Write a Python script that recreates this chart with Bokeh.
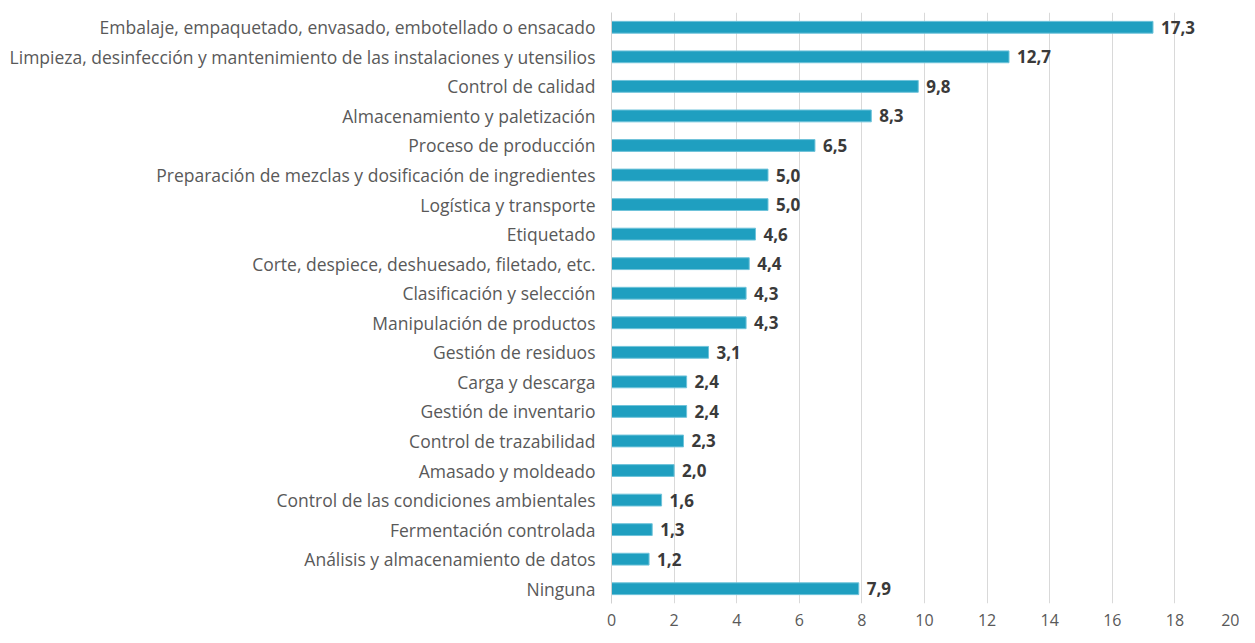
from bokeh.plotting import figure
from bokeh.models import ColumnDataSource, FixedTicker, Range1d
from bokeh.core.properties import value
from bokeh.embed import file_html
from bokeh.resources import INLINE

categories = [
    "Embalaje, empaquetado, envasado, embotellado o ensacado",
    "Limpieza, desinfección y mantenimiento de las instalaciones y utensilios",
    "Control de calidad",
    "Almacenamiento y paletización",
    "Proceso de producción",
    "Preparación de mezclas y dosificación de ingredientes",
    "Logística y transporte",
    "Etiquetado",
    "Corte, despiece, deshuesado, filetado, etc.",
    "Clasificación y selección",
    "Manipulación de productos",
    "Gestión de residuos",
    "Carga y descarga",
    "Gestión de inventario",
    "Control de trazabilidad",
    "Amasado y moldeado",
    "Control de las condiciones ambientales",
    "Fermentación controlada",
    "Análisis y almacenamiento de datos",
    "Ninguna",
]
values = [17.3, 12.7, 9.8, 8.3, 6.5, 5.0, 5.0, 4.6, 4.4, 4.3, 4.3, 3.1, 2.4, 2.4, 2.3, 2.0, 1.6, 1.3, 1.2, 7.9]
x_ticks = [0, 2, 4, 6, 8, 10, 12, 14, 16, 18, 20]

labels = [f"{v:.1f}".replace(".", ",") for v in values]
src = ColumnDataSource(dict(cat=categories, val=values, lab=labels))

FONT = "Open Sans"

p = figure(
    width=1239, height=635,
    y_range=list(reversed(categories)),
    x_range=Range1d(0, 20),
    output_backend="svg", toolbar_location=None,
    min_border_left=611, min_border_right=2, min_border_top=12, min_border_bottom=32,
)
p.outline_line_color = None
p.background_fill_color = "white"

p.hbar(y="cat", right="val", left=0, height=0.4, source=src,
       fill_color="#1F9FC0", line_color="#6FC3DA", line_width=1)

p.text(x="val", y="cat", text="lab", source=src, x_offset=8,
       text_baseline="middle", text_align="left",
       text_font=value(FONT), text_font_style="bold",
       text_font_size="17px", text_color="#3a3a3a")

p.xaxis.ticker = FixedTicker(ticks=x_ticks)
p.xaxis.axis_line_color = None
p.xaxis.major_tick_line_color = None
p.xaxis.minor_tick_line_color = None
p.xaxis.major_label_text_font = FONT
p.xaxis.major_label_text_font_size = "16px"
p.xaxis.major_label_text_color = "#595959"
p.xaxis.major_label_standoff = 4

p.yaxis.axis_line_color = "#d0d0d0"
p.yaxis.major_tick_line_color = None
p.yaxis.minor_tick_line_color = None
p.yaxis.major_label_text_font = FONT
p.yaxis.major_label_text_font_size = "17.5px"
p.yaxis.major_label_text_color = "#595959"
p.yaxis.major_label_standoff = 10

p.xgrid.grid_line_color = "#d9d9d9"
p.xgrid.ticker = FixedTicker(ticks=x_ticks)
p.ygrid.grid_line_color = None

open("out.html", "w").write(file_html(p, INLINE))
